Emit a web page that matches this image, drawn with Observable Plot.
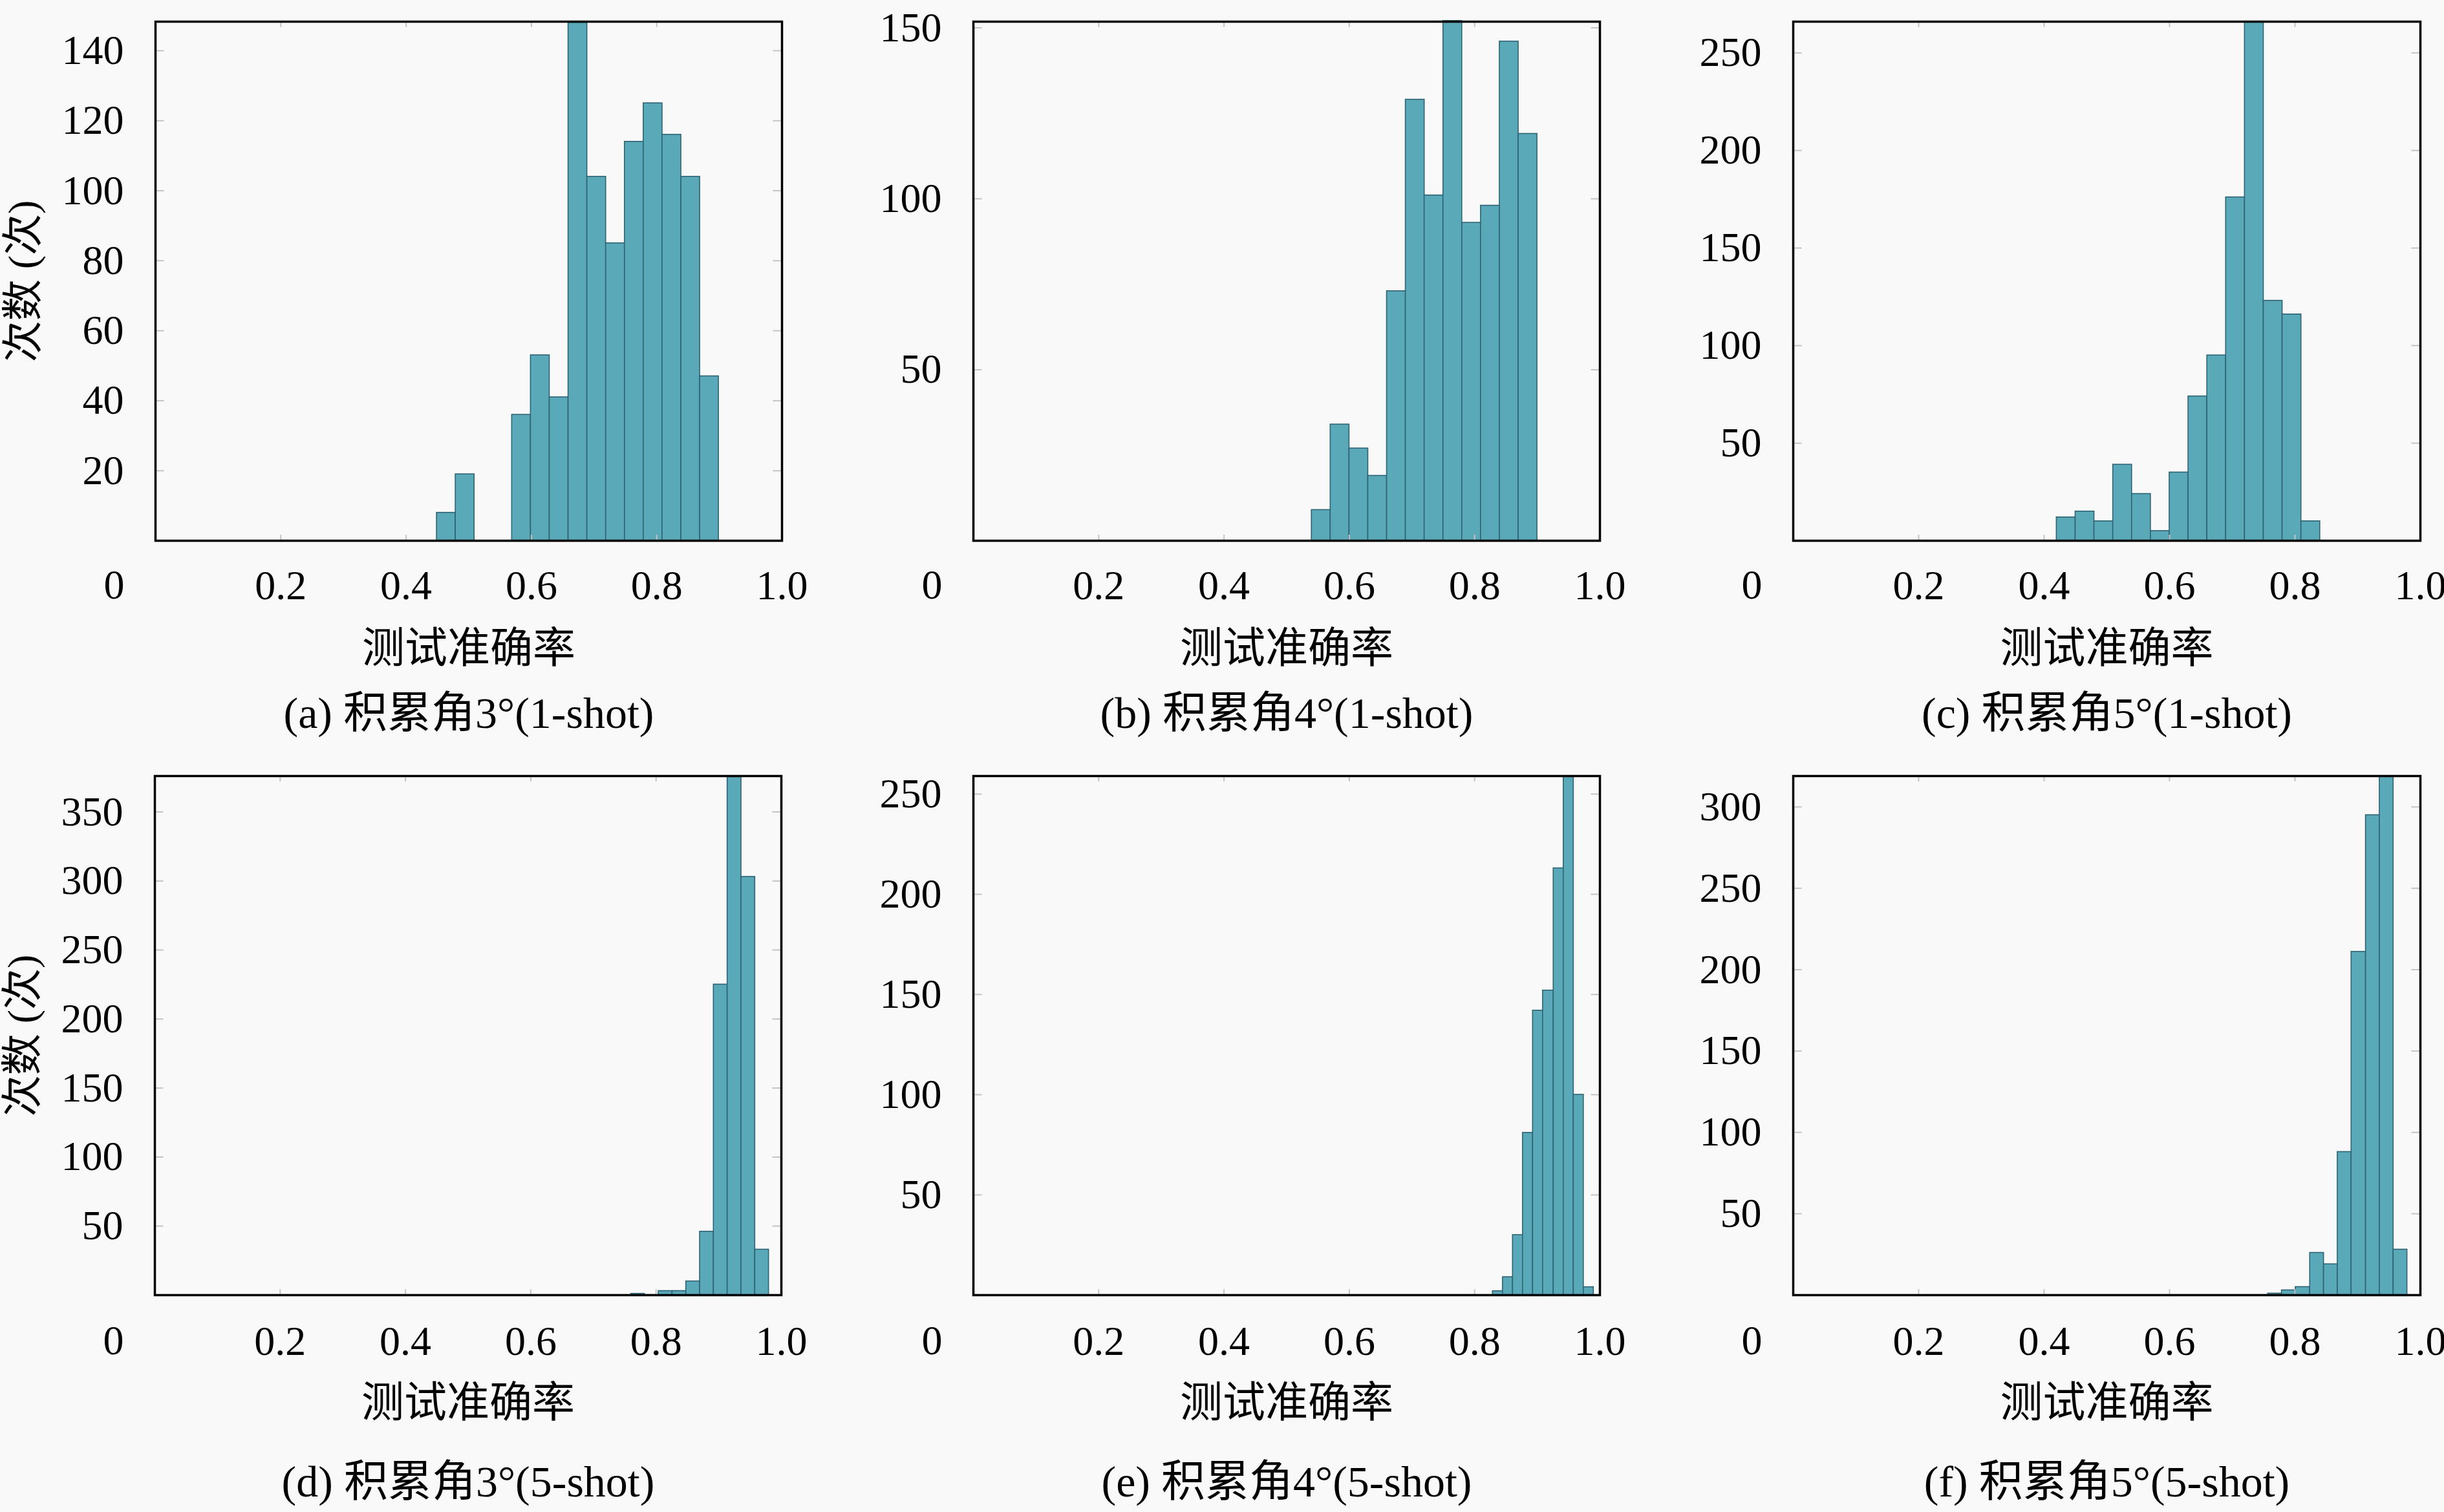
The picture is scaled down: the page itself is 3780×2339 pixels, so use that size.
<!DOCTYPE html>
<html>
<head>
<meta charset="utf-8">
<script src="https://cdn.jsdelivr.net/npm/d3@7"></script>
<script src="https://cdn.jsdelivr.net/npm/@observablehq/plot@0.6"></script>
<style>
  html, body { margin: 0; padding: 0; background: #f9f9f9; }
  #fig { position: relative; width: 3780px; height: 2339px; background: #f9f9f9; overflow: hidden; }
  .panel { position: absolute; }
</style>
</head>
<body>
<div id="fig"></div>
<script>
// ---------- data ----------
const xTicks = [0.2, 0.4, 0.6, 0.8, 1.0];
const xLabel = "测试准确率";
const yLabel = "次数 (次)";
const captions = [
  "(a) 积累角3°(1-shot)", "(b) 积累角4°(1-shot)", "(c) 积累角5°(1-shot)",
  "(d) 积累角3°(5-shot)", "(e) 积累角4°(5-shot)", "(f) 积累角5°(5-shot)"
];

// (a) 3°, 1-shot
const edgesA  = [0.449, 0.479, 0.509, 0.539, 0.569, 0.599, 0.629, 0.659, 0.689, 0.719, 0.749, 0.779, 0.809, 0.839, 0.869, 0.899];
const countsA = [8, 19, 0, 0, 36, 53, 41, 148, 104, 85, 114, 125, 116, 104, 47];
const yTicksA = [20, 40, 60, 80, 100, 120, 140];
const yMaxA = 148.3;

// (b) 4°, 1-shot
const edgesB  = [0.540, 0.570, 0.600, 0.630, 0.660, 0.690, 0.720, 0.750, 0.780, 0.810, 0.840, 0.870, 0.900];
const countsB = [9, 34, 27, 19, 73, 129, 101, 152, 93, 98, 146, 119];
const yTicksB = [50, 100, 150];
const yMaxB = 151.8;

// (c) 5°, 1-shot
const edgesC  = [0.420, 0.450, 0.480, 0.510, 0.540, 0.570, 0.600, 0.630, 0.660, 0.690, 0.720, 0.750, 0.780, 0.810, 0.840];
const countsC = [12, 15, 10, 39, 24, 5, 35, 74, 95, 176, 266, 123, 116, 10];
const yTicksC = [50, 100, 150, 200, 250];
const yMaxC = 266;

// (d) 3°, 5-shot
const edgesD  = [0.760, 0.782, 0.804, 0.826, 0.848, 0.870, 0.892, 0.914, 0.936, 0.958, 0.980];
const countsD = [1, 0, 3, 3, 10, 46, 225, 376, 303, 33];
const yTicksD = [50, 100, 150, 200, 250, 300, 350];
const yMaxD = 376;

// (e) 4°, 5-shot
const edgesE  = [0.829, 0.845, 0.861, 0.877, 0.893, 0.909, 0.926, 0.942, 0.958, 0.974, 0.990];
const countsE = [2, 9, 30, 81, 142, 152, 213, 259, 100, 4];
const yTicksE = [50, 100, 150, 200, 250];
const yMaxE = 259;

// (f) 5°, 5-shot
const edgesF  = [0.757, 0.779, 0.801, 0.824, 0.846, 0.868, 0.890, 0.913, 0.935, 0.957, 0.979];
const countsF = [1, 3, 5, 26, 19, 88, 211, 295, 319, 28];
const yTicksF = [50, 100, 150, 200, 250, 300];
const yMaxF = 319;

// ---------- layout ----------
const FONT = "'Liberation Serif', 'Noto Sans CJK SC', serif";
const panels = [
  {edges: edgesA, counts: countsA, yTicks: yTicksA, yMax: yMaxA, cap: captions[0], left: 0,    top: 0,    h: 1170, mt: 33, ml: 240, mr: 51, ylab: true,  tickDy: 69, labDy: 167, capDy: 268},
  {edges: edgesB, counts: countsB, yTicks: yTicksB, yMax: yMaxB, cap: captions[1], left: 1260, top: 0,    h: 1170, mt: 33, ml: 245, mr: 46, ylab: false, tickDy: 69, labDy: 167, capDy: 268},
  {edges: edgesC, counts: countsC, yTicks: yTicksC, yMax: yMaxC, cap: captions[2], left: 2520, top: 0,    h: 1170, mt: 33, ml: 253, mr: 37, ylab: false, tickDy: 69, labDy: 167, capDy: 268},
  {edges: edgesD, counts: countsD, yTicks: yTicksD, yMax: yMaxD, cap: captions[3], left: 0,    top: 1170, h: 1169, mt: 30, ml: 239, mr: 52, ylab: true,  tickDy: 71, labDy: 167, capDy: 290},
  {edges: edgesE, counts: countsE, yTicks: yTicksE, yMax: yMaxE, cap: captions[4], left: 1260, top: 1170, h: 1169, mt: 30, ml: 245, mr: 46, ylab: false, tickDy: 71, labDy: 167, capDy: 290},
  {edges: edgesF, counts: countsF, yTicks: yTicksF, yMax: yMaxF, cap: captions[5], left: 2520, top: 1170, h: 1169, mt: 30, ml: 253, mr: 37, ylab: false, tickDy: 71, labDy: 167, capDy: 290}
];

const fig = document.getElementById("fig");
for (const p of panels) {
  const bins = p.counts.map((c, i) => ({x1: p.edges[i], x2: p.edges[i + 1], n: c})).filter(d => d.n > 0);
  const plotH = 803;
  const mb = p.h - p.mt - plotH;
  const tickLenY = p.yMax * 0.011;
  const tickLenX = 0.014;
  const marks = [
    Plot.rectY(bins, {x1: "x1", x2: "x2", y1: 0, y2: "n", fill: "#5aa9b9", stroke: "#2f6374", strokeWidth: 1.6}),
    // faint inward ticks
    Plot.ruleX(xTicks, {x: d => d, y1: 0, y2: tickLenY, stroke: "#c4c4c4", strokeWidth: 2}),
    Plot.ruleX(xTicks, {x: d => d, y1: p.yMax - tickLenY, y2: p.yMax, stroke: "#c4c4c4", strokeWidth: 2}),
    Plot.ruleY(p.yTicks, {y: d => d, x1: 0, x2: tickLenX, stroke: "#c4c4c4", strokeWidth: 2}),
    Plot.ruleY(p.yTicks, {y: d => d, x1: 1 - tickLenX, x2: 1, stroke: "#c4c4c4", strokeWidth: 2}),
    Plot.frame({stroke: "black", strokeWidth: 3.5}),
    Plot.axisX({ticks: xTicks, tickSize: 0, tickPadding: p.tickDy - 24, tickFormat: d => d.toFixed(1), fontSize: 64, label: null}),
    Plot.axisY({ticks: p.yTicks, tickSize: 0, tickPadding: 49, tickFormat: d => String(d), fontSize: 64, label: null}),
    Plot.text(["0"], {frameAnchor: "bottom-left", dx: -64, dy: p.tickDy, text: d => d, fontSize: 64, textAnchor: "middle", lineAnchor: "middle"}),
    Plot.text([xLabel], {frameAnchor: "bottom", dy: p.labDy, text: d => d, fontSize: 66, textAnchor: "middle", lineAnchor: "middle"}),
    Plot.text([p.cap], {frameAnchor: "bottom", dy: p.capDy, text: d => d, fontSize: 68, textAnchor: "middle", lineAnchor: "middle"})
  ];
  if (p.ylab) {
    marks.push(Plot.text([yLabel], {frameAnchor: "left", dx: -204, rotate: -90, text: d => d, fontSize: 64, textAnchor: "middle", lineAnchor: "middle"}));
  }
  const svg = Plot.plot({
    width: 1260,
    height: p.h,
    marginTop: p.mt,
    marginBottom: mb,
    marginLeft: p.ml,
    marginRight: p.mr,
    x: {domain: [0, 1]},
    y: {domain: [0, p.yMax]},
    style: {fontFamily: FONT, fontSize: "64px", background: "transparent", color: "black", overflow: "visible"},
    marks
  });
  const wrap = document.createElement("div");
  wrap.className = "panel";
  wrap.style.left = p.left + "px";
  wrap.style.top = p.top + "px";
  wrap.appendChild(svg);
  fig.appendChild(wrap);
}
</script>
</body>
</html>
